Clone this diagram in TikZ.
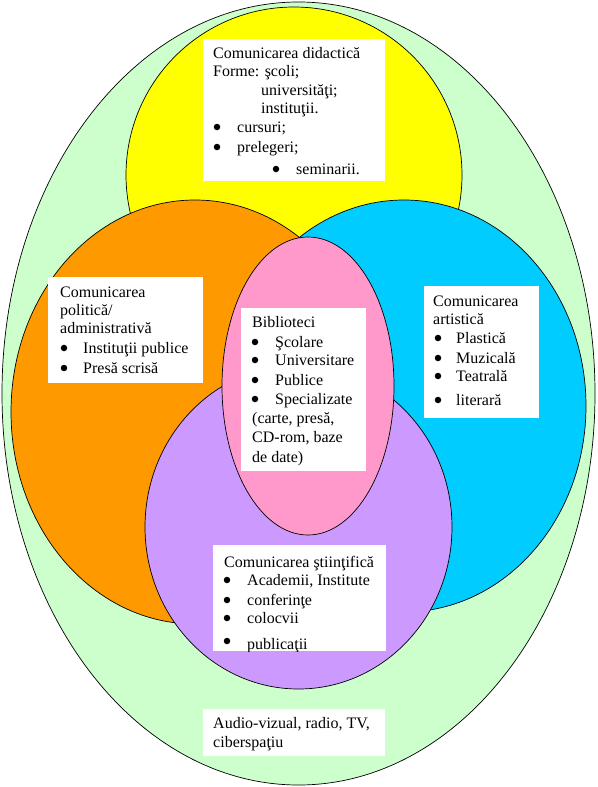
\documentclass[tikz,border=0pt]{standalone}
\usepackage{fontspec}
\setmainfont{Liberation Serif}
\definecolor{cgreen}{HTML}{CCFFCC}
\definecolor{cyellow}{HTML}{FFFF00}
\definecolor{corange}{HTML}{FF9900}
\definecolor{cblue}{HTML}{00CCFF}
\definecolor{cpurple}{HTML}{CC99FF}
\definecolor{cpink}{HTML}{FF99CC}
\begin{document}
\begin{tikzpicture}[x=1pt,y=-1pt,
  blob/.style={draw=black, line width=0.7pt},
  wbox/.style={fill=white, draw=none},
  txt/.style={anchor=base west, inner sep=0pt, font=\fontsize{16}{19}\selectfont},
  bul/.style={circle, fill=black, inner sep=0pt, minimum size=6.5pt, yshift=5pt}]
\useasboundingbox (0,0) rectangle (597,787);
\fill[white] (0,0) rectangle (597,787);
% circles
\path[blob, fill=cgreen]  (298.5,393.5) ellipse [x radius=296.5pt, y radius=391.5pt];
\path[blob, fill=cyellow] (294,175) ellipse [x radius=168pt, y radius=168pt];
\path[blob, fill=corange] (195,412) ellipse [x radius=184pt, y radius=212pt];
\path[blob, fill=cblue]   (404,406) ellipse [x radius=182pt, y radius=206pt];
\path[blob, fill=cpurple] (298.5,527) ellipse [x radius=153.5pt, y radius=162pt];
\path[blob, fill=cpink]   (308,386) ellipse [x radius=86pt, y radius=149pt];
% white boxes
\path[wbox] (203,39) rectangle (385,181);
\path[wbox] (48,277) rectangle (203,383);
\path[wbox] (241,308) rectangle (366,471);
\path[wbox] (424,286) rectangle (539,418);
\path[wbox] (213,545) rectangle (386,651);
\path[wbox] (203,709) rectangle (385,756);
% box 1: didactica
\node[txt] (d1) at (213,58) {Comunicarea didactică};
\node[txt] (d2) at (213,76) {Forme: şcoli;};
\node[txt] (d3) at (261,95) {universităţi;};
\node[txt] (d4) at (261,113) {instituţii.};
\node[bul] (db1) at (217,132) {};
\node[txt] (d5) at (237,132) {cursuri;};
\node[bul] (db2) at (217,152) {};
\node[txt] (d6) at (237,152) {prelegeri;};
\node[bul] (db3) at (276,174) {};
\node[txt] (d7) at (296,174) {seminarii.};
% box 2: politica
\node[txt] (p1) at (60,297) {Comunicarea};
\node[txt] (p2) at (60,315) {politică/};
\node[txt] (p3) at (60,333) {administrativă};
\node[bul] (pb1) at (64,353) {};
\node[txt] (p4) at (83,353) {Instituţii publice};
\node[bul] (pb2) at (64,373) {};
\node[txt] (p5) at (83,373) {Presă scrisă};
% box 3: biblioteci
\node[txt] (b1) at (252,327) {Biblioteci};
\node[bul] (bb1) at (255,347) {};
\node[txt] (b2) at (275,347) {Şcolare};
\node[bul] (bb2) at (255,365) {};
\node[txt] (b3) at (275,365) {Universitare};
\node[bul] (bb3) at (255,385) {};
\node[txt] (b4) at (275,385) {Publice};
\node[bul] (bb4) at (255,404) {};
\node[txt] (b5) at (275,404) {Specializate};
\node[txt] (b6) at (252,423) {(carte, presă,};
\node[txt] (b7) at (252,442) {CD-rom, baze};
\node[txt] (b8) at (252,462) {de date)};
% box 4: artistica
\node[txt] (a1) at (433,306) {Comunicarea};
\node[txt] (a2) at (433,324) {artistică};
\node[bul] (ab1) at (438,343) {};
\node[txt] (a3) at (456,343) {Plastică};
\node[bul] (ab2) at (438,363) {};
\node[txt] (a4) at (456,363) {Muzicală};
\node[bul] (ab3) at (438,381) {};
\node[txt] (a5) at (456,381) {Teatrală};
\node[bul] (ab4) at (438,405) {};
\node[txt] (a6) at (456,405) {literară};
% box 5: stiintifica
\node[txt] (s1) at (224,567) {Comunicarea ştiinţifică};
\node[bul] (sb1) at (227,585) {};
\node[txt] (s2) at (247,585) {Academii, Institute};
\node[bul] (sb2) at (227,605) {};
\node[txt] (s3) at (247,605) {conferinţe};
\node[bul] (sb3) at (227,623) {};
\node[txt] (s4) at (247,623) {colocvii};
\begin{scope}
\clip (213,545) rectangle (386,651);
\node[bul] (sb4) at (227,646) {};
\node[txt] (s5) at (247,649) {publicaţii};
\end{scope}
% box 6: audio
\node[txt] (v1) at (213,728) {Audio-vizual, radio, TV,};
\node[txt] (v2) at (213,747) {ciberspaţiu};
\end{tikzpicture}
\end{document}
